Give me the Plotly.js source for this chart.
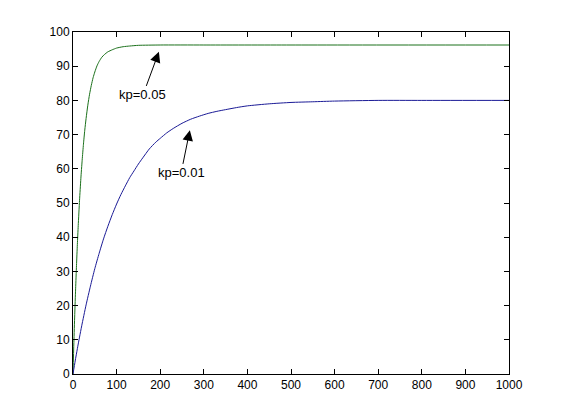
<!DOCTYPE html>
<html>
<head>
<meta charset="utf-8">
<script src="https://cdn.plot.ly/plotly-3.0.1.min.js"></script>
<style>
  html, body { margin: 0; padding: 0; background: #fff; }
  #chart { width: 561px; height: 420px; }
</style>
</head>
<body>
<div id="chart"></div>
<script>
// step responses
var tFast = [0, 2, 4, 6, 8, 10, 12, 15, 18, 21, 24, 27, 30, 34, 38, 42, 46, 50, 55, 60, 66, 72, 80, 90, 100, 115, 130, 150, 200, 300, 500, 1000];
var kpFast = [0, 9.2, 17.4, 24.9, 31.7, 37.9, 43.4, 50.8, 57.1, 62.5, 67.2, 71.3, 74.7, 78.6, 81.8, 84.4, 86.6, 88.3, 90.1, 91.4, 92.6, 93.4, 94.2, 94.8, 95.3, 95.7, 95.9, 96.1, 96.2, 96.2, 96.2, 96.2];

var tSlow = [0, 5, 10, 15, 20, 30, 40, 50, 60, 70, 80, 90, 100, 110, 120, 130, 140, 150, 160, 175, 190, 200, 215, 230, 250, 270, 290, 310, 330, 350, 375, 400, 450, 500, 550, 600, 700, 800, 1000];
var kpSlow = [0, 3.8, 7.4, 10.8, 14.1, 20.2, 25.7, 30.8, 35.3, 39.5, 43.2, 46.6, 49.7, 52.5, 55.0, 57.4, 59.4, 61.4, 63.2, 65.8, 67.8, 68.9, 70.5, 71.8, 73.3, 74.5, 75.4, 76.2, 76.8, 77.3, 77.9, 78.4, 79.0, 79.4, 79.6, 79.8, 80, 80, 80];

var labels = ['kp=0.05', 'kp=0.01'];
var arrowHead = [[197, 94.2], [268, 71.3]];
var labelPos = [[160.5, 81.6], [248, 58.8]];

var font = {family: 'Liberation Sans, Arial, sans-serif', size: 12, color: '#000'};

var data = [
    {x: tFast, y: kpFast, mode: 'lines', type: 'scatter',
     line: {color: '#1a701a', width: 1, shape: 'spline', smoothing: 0.6}},
    {x: tSlow, y: kpSlow, mode: 'lines', type: 'scatter',
     line: {color: '#1a1a96', width: 1, shape: 'spline', smoothing: 0.6}}
];

var annotations = [];
for (var i = 0; i < labels.length; i++) {
    annotations.push({
        x: arrowHead[i][0], y: arrowHead[i][1],
        ax: labelPos[i][0], ay: labelPos[i][1],
        axref: 'x', ayref: 'y', xref: 'x', yref: 'y',
        text: labels[i], showarrow: true,
        arrowhead: 2, arrowsize: 2.1, arrowwidth: 1, arrowcolor: '#000',
        font: Object.assign({}, font, {size: 13})
    });
}

var axis = {
    showgrid: false, zeroline: false,
    showline: true, linecolor: '#000', linewidth: 1,
    mirror: 'ticks', ticks: 'inside', ticklen: 5, tickcolor: '#000',
    tickfont: font
};

var layout = {
    width: 561, height: 420,
    margin: {l: 73, r: 52, t: 32, b: 46},
    paper_bgcolor: '#fff', plot_bgcolor: '#fff',
    showlegend: false,
    font: font,
    xaxis: Object.assign({}, axis, {range: [0, 1000], dtick: 100, tick0: 0}),
    yaxis: Object.assign({}, axis, {range: [0, 100], dtick: 10, tick0: 0}),
    annotations: annotations
};

Plotly.newPlot('chart', data, layout, {displayModeBar: false, staticPlot: true});
</script>
</body>
</html>
